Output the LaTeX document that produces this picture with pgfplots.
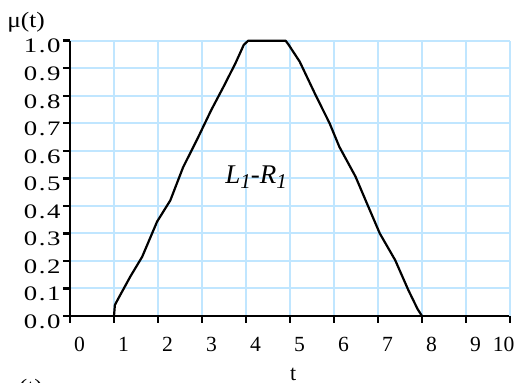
\documentclass[border=0pt]{standalone}
\usepackage{fontspec}
\setmainfont{Liberation Serif}
\usepackage{pgfplots}
\pgfplotsset{compat=1.18}
\definecolor{GridBlue}{RGB}{192,230,255}
% y tick labels in the reference are set wide
\newcommand\tl[2]{\scalebox{1.3}[1]{#1\kern0.6pt.\kern0.6pt#2}}
\tikzset{
  lbl/.style={font=\fontsize{11}{13}\selectfont},
  curve/.style={black, line width=1.1pt, line join=round}
}
\begin{document}
\begin{tikzpicture}
\begin{axis}[
  scale only axis,
  width=220pt, height=137.65pt,
  xmin=0, xmax=10, ymin=0, ymax=1,
  axis lines=left,
  axis line style={-, line width=1.3pt},
  tick align=outside,
  major tick length=3.5pt,
  tick style={black, line width=1.2pt},
  xtick={0,1,2,3,4,5,6,7,8,9},
  xticklabels={0,1,2,3,4,5,6,7,8,9},
  extra x ticks={10},
  extra x tick labels={10},
  extra x tick style={grid=major, xticklabel style={xshift=-8pt}},
  ytick={0,0.1,0.2,0.3,0.4,0.5,0.6,0.7,0.8,0.9,1},
  yticklabels={\tl00,\tl01,\tl02,\tl03,\tl04,\tl05,\tl06,\tl07,\tl08,\tl09,\tl10},
  xticklabel style={font=\fontsize{10.8}{12}\selectfont, xshift=4.8pt, yshift=-3.5pt},
  yticklabel style={font=\fontsize{10.3}{12}\selectfont, xshift=2.3pt, yshift=-2.8pt},
  grid=major,
  major grid style={GridBlue, line width=1pt},
  xlabel={t},
  xlabel style={lbl, at={(axis description cs:0.507,-0.2325)}, anchor=base},
  clip=false,
]
% left flank, flat top, right flank
\addplot[curve] coordinates {
  (1.00,0.000) (1.02,0.040) (1.10,0.064) (1.37,0.143) (1.64,0.215)
  (1.98,0.343) (2.28,0.420) (2.57,0.540) (2.90,0.645) (3.21,0.748)
  (3.49,0.833) (3.76,0.918) (3.95,0.985) (4.05,1.000) (4.90,1.000)
  (4.97,0.985) (5.22,0.924) (5.58,0.803) (5.90,0.700) (6.12,0.615)
  (6.49,0.506) (6.78,0.397) (7.04,0.300) (7.39,0.203) (7.69,0.094)
  (7.90,0.025) (8.00,0.000)
};
\node[anchor=base west, font=\fontsize{13.5}{15}\selectfont\itshape, inner sep=0pt]
  at (axis cs:3.52,0.483)
  {L\raisebox{-2.5pt}{\fontsize{10.5}{12}\selectfont 1}-R\raisebox{-2.5pt}{\fontsize{10.5}{12}\selectfont 1}};
\end{axis}
\node[lbl] at (-22pt,146.75pt) {\scalebox{1.15}[1]{μ(t)}};
\node[lbl] at (-23pt,-36.5pt) {\scalebox{1.15}[1]{μ(t)}};
\pgfresetboundingbox
\path[use as bounding box] (-35pt,-33.5pt) rectangle (224pt,158pt);
\end{tikzpicture}
\end{document}
